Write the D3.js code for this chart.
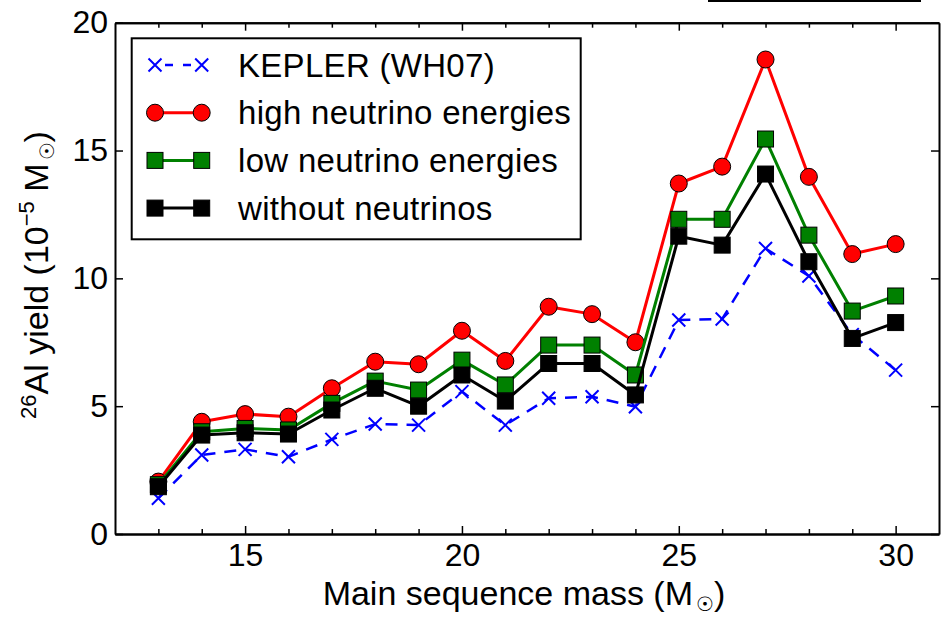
<!DOCTYPE html>
<html>
<head>
<meta charset="utf-8">
<script src="https://cdn.jsdelivr.net/npm/d3@7"></script>
<style>
    body { margin: 0; background: #fff; }
    svg text { font-family: "Liberation Sans", Arial, sans-serif; fill: #000; }
</style>
</head>
<body>
<div id="chart"></div>
<script>
// Main sequence mass (M_sun)
var masses = [13, 14, 15, 16, 17, 18, 19, 20, 21, 22, 23, 24, 25, 26, 27, 28, 29, 30];

// 26Al yield in units of 1e-5 M_sun
var kepler = [1.40, 3.09, 3.31, 3.02, 3.70, 4.30, 4.26, 5.57, 4.26, 5.31, 5.37, 4.98, 8.37, 8.41, 11.17, 10.09, 7.80, 6.41];
var highNu = [2.05, 4.39, 4.69, 4.59, 5.70, 6.74, 6.64, 7.95, 6.77, 8.89, 8.60, 7.50, 13.71, 14.37, 18.56, 13.97, 10.95, 11.34];
var lowNu = [1.93, 4.00, 4.13, 4.07, 5.11, 5.98, 5.63, 6.80, 5.83, 7.39, 7.39, 6.22, 12.31, 12.31, 15.45, 11.69, 8.72, 9.31];
var noNu = [1.85, 3.87, 3.96, 3.91, 4.85, 5.70, 5.00, 6.22, 5.20, 6.67, 6.67, 5.44, 11.65, 11.30, 14.08, 10.65, 7.65, 8.27];

var seriesNames = ["KEPLER (WH07)", "high neutrino energies", "low neutrino energies", "without neutrinos"];
var xMajorTicks = [15, 20, 25, 30];
var yTicks = [0, 5, 10, 15, 20];

var width = 941, height = 619;
var plotLeft = 115, plotRight = 939, plotTop = 22.7, plotBottom = 534;

var svg = d3.select("#chart").append("svg")
    .attr("width", width)
    .attr("height", height);

var fnScaleX = d3.scaleLinear().domain([12, 31]).range([plotLeft, plotRight]);
var fnScaleY = d3.scaleLinear().domain([0, 20]).range([plotBottom, plotTop]);

var series = [
    { name: seriesNames[0], values: kepler, color: "#0000ff", marker: "x", dash: "12,9", width: 2.5 },
    { name: seriesNames[1], values: highNu, color: "#ff0000", marker: "circle", dash: null, width: 3 },
    { name: seriesNames[2], values: lowNu, color: "#008000", marker: "square", dash: null, width: 3 },
    { name: seriesNames[3], values: noNu, color: "#000000", marker: "square", dash: null, width: 3 }
];

function drawMarker(g, type, color) {
    if (type === "circle") {
        g.append("circle").attr("r", 8.5)
            .attr("fill", color).attr("stroke", "#000").attr("stroke-width", 1);
    } else if (type === "square") {
        g.append("rect").attr("x", -8).attr("y", -8).attr("width", 16).attr("height", 16)
            .attr("fill", color).attr("stroke", "#000").attr("stroke-width", 1);
    } else {
        g.append("path").attr("d", "M-6.5,-6.5L6.5,6.5M-6.5,6.5L6.5,-6.5")
            .attr("fill", "none").attr("stroke", color).attr("stroke-width", 2);
    }
}

/** data lines + markers */
series.forEach(function (s) {
    var pts = masses.map(function (m, i) { return { x: m, y: s.values[i] }; });
    var fnLine = d3.line()
        .x(function (d) { return fnScaleX(d.x); })
        .y(function (d) { return fnScaleY(d.y); });
    svg.append("path").datum(pts)
        .attr("fill", "none")
        .attr("stroke", s.color)
        .attr("stroke-width", s.width)
        .attr("stroke-dasharray", s.dash)
        .attr("stroke-linejoin", "round")
        .attr("d", fnLine);
    svg.append("g").selectAll("g").data(pts).enter().append("g")
        .attr("transform", function (d) { return "translate(" + fnScaleX(d.x) + "," + fnScaleY(d.y) + ")"; })
        .each(function () { drawMarker(d3.select(this), s.marker, s.color); });
});

/** axes: inward ticks on all four sides */
var xMinorTicks = masses.filter(function (m) { return xMajorTicks.indexOf(m) < 0; });

function styleAxis(g) {
    g.selectAll("path.domain").attr("stroke", "#000").attr("stroke-width", 2);
    g.selectAll(".tick line").attr("stroke", "#000").attr("stroke-width", 1.5);
    g.selectAll("text").attr("font-size", 32).attr("fill", "#000").attr("font-family", "Liberation Sans, Arial, sans-serif");
}

svg.append("g")
    .attr("transform", "translate(0," + plotBottom + ")")
    .call(d3.axisBottom(fnScaleX).tickValues(xMajorTicks).tickSize(-8).tickSizeOuter(0).tickPadding(9).tickFormat(d3.format("d")))
    .call(styleAxis);
svg.append("g")
    .attr("transform", "translate(0," + plotBottom + ")")
    .call(d3.axisBottom(fnScaleX).tickValues(xMinorTicks).tickSize(-5).tickSizeOuter(0).tickFormat(""))
    .call(styleAxis);
svg.append("g")
    .attr("transform", "translate(0," + plotTop + ")")
    .call(d3.axisTop(fnScaleX).tickValues(xMajorTicks).tickSize(-8).tickSizeOuter(0).tickFormat(""))
    .call(styleAxis);
svg.append("g")
    .attr("transform", "translate(0," + plotTop + ")")
    .call(d3.axisTop(fnScaleX).tickValues(xMinorTicks).tickSize(-5).tickSizeOuter(0).tickFormat(""))
    .call(styleAxis);
svg.append("g")
    .attr("transform", "translate(" + plotLeft + ",0)")
    .call(d3.axisLeft(fnScaleY).tickValues(yTicks).tickSize(-8).tickSizeOuter(0).tickPadding(7).tickFormat(d3.format("d")))
    .call(styleAxis);
svg.append("g")
    .attr("transform", "translate(" + plotRight + ",0)")
    .call(d3.axisRight(fnScaleY).tickValues(yTicks).tickSize(-8).tickSizeOuter(0).tickFormat(""))
    .call(styleAxis);

/** axis labels */
var xLabel = svg.append("text")
    .attr("x", (plotLeft + plotRight) / 2 - 3)
    .attr("y", 605)
    .attr("text-anchor", "middle")
    .attr("font-size", 34);
xLabel.append("tspan").text("Main sequence mass (M");
xLabel.append("tspan").attr("font-size", 20).attr("dy", 6).attr("dx", 3).text("\u2609");
xLabel.append("tspan").attr("dy", -6).text(")");

var yLabel = svg.append("text")
    .attr("transform", "translate(48," + 275 + ") rotate(-90)")
    .attr("text-anchor", "middle")
    .attr("font-size", 34);
yLabel.append("tspan").attr("font-size", 22).attr("dy", -12).text("26");
yLabel.append("tspan").attr("dy", 12).text("Al yield (10");
yLabel.append("tspan").attr("font-size", 22).attr("dy", -14).text("\u22125");
yLabel.append("tspan").attr("dy", 14).text(" M");
yLabel.append("tspan").attr("font-size", 20).attr("dy", 6).attr("dx", 3).text("\u2609");
yLabel.append("tspan").attr("dy", -6).text(")");

/** legend */
var legend = svg.append("g");
legend.append("rect")
    .attr("x", 131.7).attr("y", 38.3)
    .attr("width", 449).attr("height", 201)
    .attr("fill", "#fff").attr("stroke", "#000").attr("stroke-width", 2);

series.forEach(function (s, i) {
    var cy = 65 + i * 47.7;
    var row = legend.append("g").attr("transform", "translate(0," + cy + ")");
    row.append("line")
        .attr("x1", 155).attr("x2", 201.7)
        .attr("stroke", s.color).attr("stroke-width", s.width)
        .attr("stroke-dasharray", s.dash ? "8,10" : null)
        .attr("stroke-dashoffset", s.dash ? -10 : null);
    [155, 201.7].forEach(function (mx) {
        drawMarker(row.append("g").attr("transform", "translate(" + mx + ",0)"), s.marker, s.color);
    });
    row.append("text")
        .attr("x", 238).attr("y", 11.5)
        .attr("font-size", 33)
        .attr("letter-spacing", 0.3)
        .text(s.name);
});

// stray edge of the neighbouring panel, cropped at the top
svg.append("line")
    .attr("x1", 708).attr("x2", 921).attr("y1", 1).attr("y2", 1)
    .attr("stroke", "#000").attr("stroke-width", 2);
</script>
</body>
</html>
